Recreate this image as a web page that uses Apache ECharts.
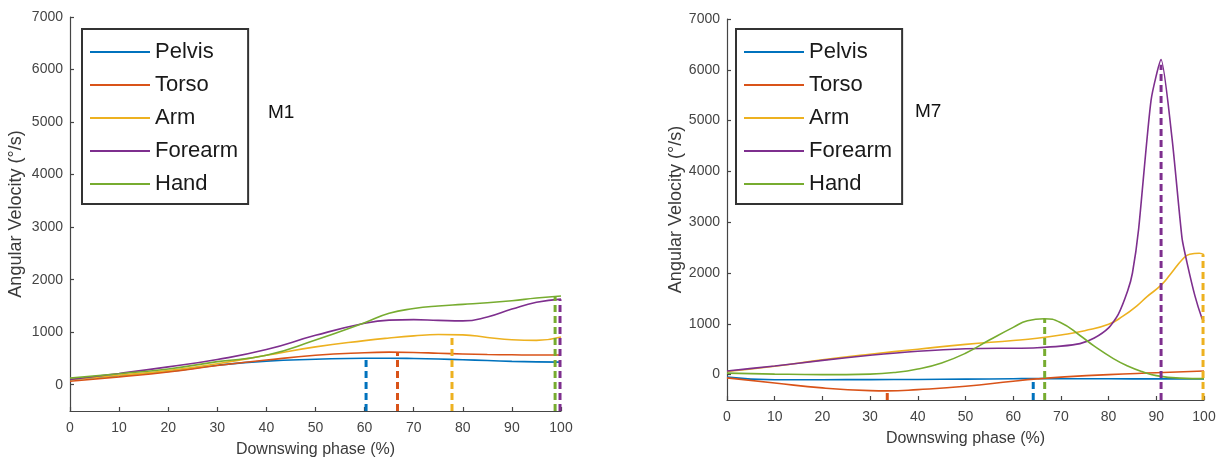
<!DOCTYPE html>
<html>
<head>
<meta charset="utf-8">
<script src="https://cdn.jsdelivr.net/npm/echarts@6/dist/echarts.min.js"></script>
<style>
html,body{margin:0;padding:0;background:#fff;}
#chart{width:1219px;height:463px;}
</style>
</head>
<body>
<div id="chart"></div>
<script>
// ---------- data ----------
const segmentNames = ['Pelvis', 'Torso', 'Arm', 'Forearm', 'Hand'];
const segmentColors = ['#0072BD', '#D95319', '#EDB120', '#7E2F8E', '#77AC30'];
const xTickValues = [0, 10, 20, 30, 40, 50, 60, 70, 80, 90, 100];
const yTickValues = [0, 1000, 2000, 3000, 4000, 5000, 6000, 7000];
const panelTitles = ['M1', 'M7'];

// M1
const m1X = [0, 10, 20, 30, 40, 50, 60, 65, 70, 75, 80, 85, 90, 95, 100];
const m1Pelvis  = [95, 170, 253, 370, 450, 485, 505, 505, 500, 490, 475, 460, 445, 435, 430];
const m1Torso   = [65, 150, 245, 365, 470, 560, 610, 620, 615, 600, 585, 575, 570, 565, 565];
const m1Arm     = [95, 180, 270, 400, 560, 720, 840, 890, 930, 955, 950, 900, 855, 845, 910];
const m1Forearm = [100, 215, 340, 480, 670, 940, 1170, 1230, 1240, 1225, 1215, 1290, 1440, 1570, 1630];
const m1Hand    = [125, 210, 300, 440, 560, 850, 1180, 1360, 1450, 1500, 1530, 1560, 1600, 1650, 1690];
const m1PeakX = [60.3, 66.7, 77.8, 99.8, 98.8];
const m1PeakY = [505, 620, 958, 1628, 1680];

// M7
const m7PelvisX = [0, 10, 20, 30, 40, 50, 60, 64, 70, 80, 90, 100];
const m7Pelvis  = [-50, -100, -100, -98, -95, -90, -82, -78, -80, -82, -85, -85];
const m7TorsoX  = [0, 10, 20, 30, 33.5, 40, 50, 60, 65, 70, 80, 90, 100];
const m7Torso   = [-65, -165, -262, -315, -320, -295, -230, -130, -85, -50, 0, 35, 70];
const m7ArmX    = [0, 10, 20, 30, 40, 50, 60, 65, 70, 75, 80, 83, 86, 88, 91, 93, 95.6, 97, 99, 100];
const m7Arm     = [60, 165, 290, 400, 500, 595, 670, 715, 780, 865, 990, 1150, 1360, 1530, 1760, 1980, 2280, 2370, 2390, 2360];
const m7ForearmX = [0, 10, 20, 30, 40, 50, 60, 65, 70, 74, 77, 80, 82, 84, 85, 86.3, 88.9, 91, 93.3, 95.4, 96.4, 98.1, 99.6, 100];
const m7Forearm  = [70, 170, 280, 380, 460, 510, 520, 530, 560, 610, 720, 920, 1180, 1650, 2000, 2870, 5400, 6200, 4650, 2680, 2220, 1550, 1100, 1050];
const m7HandX   = [0, 10, 20, 30, 35, 40, 45, 50, 55, 60, 63, 66.5, 70, 74, 77, 81, 84, 87, 90, 95, 100];
const m7Hand    = [30, 10, 0, 10, 40, 110, 230, 420, 680, 930, 1060, 1100, 1020, 770, 560, 315, 170, 60, -20, -70, -80];
const m7PeakX = [64.2, 33.6, 99.8, 91, 66.6];
const m7PeakY = [-78, -320, 2360, 6100, 1100];

const yMin = -500, yMax = 7000;

// ---------- build ----------
const FONT = "'Liberation Sans', Arial, sans-serif";
const zip = (xs, ys) => xs.map((x, i) => [x, ys[i]]);

const panels = [
  { xs: [m1X, m1X, m1X, m1X, m1X], ys: [m1Pelvis, m1Torso, m1Arm, m1Forearm, m1Hand], px: m1PeakX, py: m1PeakY },
  { xs: [m7PelvisX, m7TorsoX, m7ArmX, m7ForearmX, m7HandX], ys: [m7Pelvis, m7Torso, m7Arm, m7Forearm, m7Hand], px: m7PeakX, py: m7PeakY }
];

const grids = [
  { left: 70, right: 658, top: 17, bottom: 52, outerBoundsMode: 'none' },
  { left: 727, right: 15, top: 19, bottom: 63, outerBoundsMode: 'none' }
];
const yNameGaps = [45, 33];

const axisLineStyle = { color: '#454545', width: 1.2 };
const xAxes = grids.map((g, i) => ({
  type: 'value', gridIndex: i, min: 0, max: 100, interval: 10,
  name: 'Downswing phase (%)', nameLocation: 'middle', nameGap: 31,
  nameTextStyle: { fontSize: 16, color: '#3a3a3a', fontFamily: FONT },
  axisLine: { show: true, onZero: false, lineStyle: axisLineStyle },
  axisTick: { show: true, inside: true, length: 4, lineStyle: axisLineStyle, customValues: xTickValues },
  axisLabel: { fontSize: 14, color: '#444', fontFamily: FONT, margin: 10, customValues: xTickValues,
               formatter: v => String(v) },
  splitLine: { show: false }
}));
const yAxes = grids.map((g, i) => ({
  type: 'value', gridIndex: i, min: yMin, max: yMax,
  name: 'Angular Velocity (°/s)', nameLocation: 'middle', nameGap: yNameGaps[i],
  nameTextStyle: { fontSize: 18, color: '#3a3a3a', fontFamily: FONT },
  axisLine: { show: true, onZero: false, lineStyle: axisLineStyle },
  axisTick: { show: true, inside: true, length: 4, lineStyle: axisLineStyle, customValues: yTickValues },
  axisLabel: { fontSize: 14, color: '#444', fontFamily: FONT, margin: 7, customValues: yTickValues,
               formatter: v => String(v) },
  splitLine: { show: false }
}));

const series = [];
panels.forEach((p, pi) => {
  segmentNames.forEach((name, si) => {
    series.push({
      type: 'line', name: name, xAxisIndex: pi, yAxisIndex: pi,
      data: zip(p.xs[si], p.ys[si]),
      smooth: (pi === 1 && si === 3) ? 0.2 : 0.5,
      showSymbol: false, symbol: 'none',
      lineStyle: { color: segmentColors[si], width: 1.6 },
      itemStyle: { color: segmentColors[si] },
      silent: true, z: 2
    });
  });
});
panels.forEach((p, pi) => {
  segmentNames.forEach((name, si) => {
    series.push({
      type: 'line', name: name + ' peak ' + panelTitles[pi], xAxisIndex: pi, yAxisIndex: pi,
      data: [[p.px[si], yMin], [p.px[si], p.py[si]]],
      showSymbol: false, symbol: 'none',
      lineStyle: { color: segmentColors[si], width: 3, type: [7, 4] },
      itemStyle: { color: segmentColors[si] },
      silent: true, z: 3
    });
  });
});

const legendBase = {
  orient: 'vertical', data: segmentNames, icon: 'rect',
  itemWidth: 60, itemHeight: 2, itemGap: 7,
  padding: [10, 10, 7, 8],
  borderColor: '#333', borderWidth: 2, backgroundColor: '#fff',
  selectedMode: false,
  textStyle: { fontSize: 22, color: '#1a1a1a', fontFamily: FONT, lineHeight: 26, padding: [0, 0, 0, 0] }
};

const option = {
  backgroundColor: '#fff',
  animation: false,
  grid: grids,
  xAxis: xAxes,
  yAxis: yAxes,
  legend: [
    Object.assign({}, legendBase, { left: 82, top: 29 }),
    Object.assign({}, legendBase, { left: 736, top: 29 })
  ],
  graphic: [
    { type: 'text', left: 268, top: 103, style: { text: panelTitles[0], fontSize: 19, fill: '#111', fontFamily: FONT } },
    { type: 'text', left: 915, top: 102, style: { text: panelTitles[1], fontSize: 19, fill: '#111', fontFamily: FONT } }
  ],
  series: series
};

const chart = echarts.init(document.getElementById('chart'), null, { renderer: 'canvas' });
chart.setOption(option);
</script>
</body>
</html>
